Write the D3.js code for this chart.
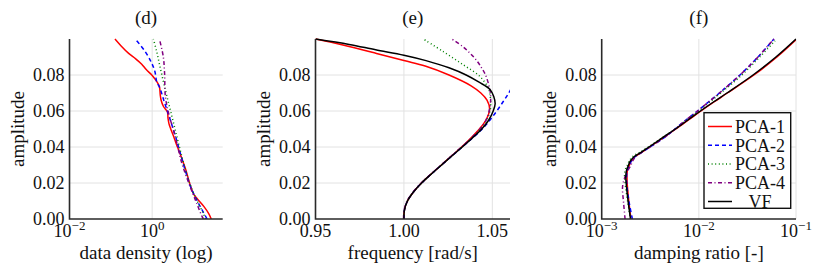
<!DOCTYPE html>
<meta charset="utf-8">
<title>Backbone curves (d)-(f)</title>
<style>
body { margin: 0; background: #fff; }
svg { display: block; font-family: "Liberation Serif", "DejaVu Serif", serif; }
.grid { stroke: #e2e2e2; stroke-width: 1; }
.spine { stroke: #2a2a2a; stroke-width: 1.6; fill: none; }
.ticklbl { font-size: 18px; fill: #111; }
.lbl { font-size: 19px; fill: #111; }
.legend text { font-size: 18px; fill: #111; }
</style>
<body>
<script src="https://cdnjs.cloudflare.com/ajax/libs/d3/7.8.5/d3.min.js"></script>
<script>

var width = 823, height = 275;

// ---- data ----
var seriesNames = ["PCA-1", "PCA-2", "PCA-3", "PCA-4", "VF"];
var ampTicks = [0, 0.02, 0.04, 0.06, 0.08];
var densityTicks = [0.01, 1];
var freqTicks = [0.95, 1.00, 1.05];
var dampTicks = [0.001, 0.01, 0.1];

// (d) data density vs amplitude (no VF curve)
var densAmp1 = [0, 0.003, 0.007, 0.011, 0.014, 0.019, 0.023, 0.027, 0.031, 0.0365, 0.042, 0.046, 0.05, 0.053, 0.056, 0.0595, 0.0625, 0.066, 0.069, 0.0735, 0.076, 0.078, 0.08, 0.083, 0.086, 0.089, 0.092, 0.096, 0.1];
var density1 = [26.9, 23.4, 17.8, 12.6, 10.0, 8.3, 7.4, 6.6, 5.75, 4.7, 3.8, 3.3, 2.82, 2.55, 2.42, 2.34, 1.88, 1.65, 1.57, 1.50, 1.32, 1.15, 0.98, 0.72, 0.56, 0.40, 0.27, 0.18, 0.126];
var densAmp2 = [0, 0.005, 0.0106, 0.018, 0.0272, 0.0365, 0.0457, 0.055, 0.0606, 0.066, 0.0726, 0.0763, 0.0818, 0.0865, 0.093, 0.1];
var density2 = [21.4, 16.2, 12.0, 8.5, 6.3, 4.8, 3.7, 2.75, 2.29, 1.91, 1.55, 1.29, 1.17, 0.98, 0.68, 0.39];
var densAmp3 = [0, 0.003, 0.0124, 0.0217, 0.0346, 0.0494, 0.0606, 0.0717, 0.0846, 0.093, 0.1];
var density3 = [19.5, 17.4, 11.0, 7.6, 5.25, 3.63, 2.75, 2.09, 1.55, 1.29, 1.07];
var densAmp4 = [0, 0.0013, 0.0087, 0.018, 0.0309, 0.0457, 0.0587, 0.068, 0.081, 0.0902, 0.1];
var density4 = [17.4, 16.2, 12.0, 8.3, 5.25, 3.63, 2.51, 2.09, 2.0, 1.86, 1.5];

// (e) backbone: frequency vs amplitude
var freqAmpVF = [0, 0.005, 0.01, 0.015, 0.02, 0.025, 0.03, 0.035, 0.04, 0.045, 0.05, 0.055, 0.06, 0.064, 0.068, 0.072, 0.076, 0.08, 0.084, 0.088, 0.091, 0.094, 0.097, 0.1];
var freqVF = [1.0, 1.0003, 1.0020, 1.0054, 1.0100, 1.0155, 1.0213, 1.0271, 1.0330, 1.0387, 1.0440, 1.0480, 1.0505, 1.0516, 1.0508, 1.0487, 1.0425, 1.0352, 1.0255, 1.0125, 1.0000, 0.9840, 0.9690, 0.9500];
var freqAmp1 = [0, 0.005, 0.01, 0.015, 0.02, 0.025, 0.03, 0.035, 0.04, 0.045, 0.05, 0.055, 0.061, 0.066, 0.07, 0.074, 0.08, 0.085, 0.088, 0.092, 0.0967, 0.1];
var freq1 = [1.0, 1.0003, 1.0020, 1.0054, 1.0099, 1.0154, 1.0212, 1.0269, 1.0326, 1.0379, 1.0427, 1.0464, 1.0485, 1.0470, 1.0435, 1.0380, 1.0255, 1.0120, 1.0000, 0.9845, 0.9655, 0.9500];
var freqAmp2 = [0, 0.005, 0.01, 0.015, 0.02, 0.025, 0.03, 0.035, 0.04, 0.045, 0.05, 0.055, 0.06, 0.065, 0.07, 0.075];
var freq2 = [1.0, 1.0003, 1.0020, 1.0054, 1.0100, 1.0155, 1.0213, 1.0271, 1.0330, 1.0388, 1.0443, 1.0487, 1.0525, 1.0560, 1.0593, 1.0620];
var freqAmp3 = [0, 0.005, 0.01, 0.015, 0.02, 0.025, 0.03, 0.035, 0.04, 0.045, 0.05, 0.055, 0.06, 0.065, 0.07, 0.0726, 0.079, 0.0856, 0.093, 0.1];
var freq3 = [1.0, 1.0003, 1.0020, 1.0054, 1.0100, 1.0155, 1.0213, 1.0270, 1.0328, 1.0384, 1.0432, 1.0468, 1.0487, 1.0491, 1.0485, 1.0478, 1.0432, 1.0337, 1.0223, 1.0110];
var freqAmp4 = [0, 0.005, 0.01, 0.015, 0.02, 0.025, 0.03, 0.035, 0.04, 0.045, 0.05, 0.055, 0.06, 0.065, 0.07, 0.0744, 0.08, 0.0837, 0.088, 0.092, 0.096, 0.1];
var freq4 = [0.9998, 1.0001, 1.0018, 1.0052, 1.0098, 1.0153, 1.0211, 1.0268, 1.0326, 1.0382, 1.0430, 1.0465, 1.0482, 1.0490, 1.0489, 1.0480, 1.0462, 1.0441, 1.0412, 1.0375, 1.0330, 1.0271];

// (f) damping ratio vs amplitude
var dampAmp = [0, 0.009, 0.018, 0.0235, 0.027, 0.03, 0.032, 0.0346, 0.037, 0.04, 0.0457, 0.05, 0.055, 0.06, 0.065, 0.07, 0.08, 0.09, 0.1];
var dampAmp3 = [0, 0.009, 0.018, 0.0235, 0.027, 0.03, 0.032, 0.0346, 0.037, 0.04, 0.0457, 0.05, 0.055, 0.06, 0.065, 0.07, 0.08, 0.09, 0.099];
var damp1 = [0.00200, 0.00191, 0.00184, 0.00182, 0.00184, 0.00193, 0.00200, 0.00219, 0.00257, 0.00310, 0.00443, 0.00581, 0.00782, 0.01052, 0.01430, 0.01968, 0.0369, 0.0637, 0.102];
var damp2 = [0.00207, 0.00192, 0.00182, 0.00180, 0.00184, 0.00193, 0.00201, 0.00220, 0.00258, 0.00315, 0.00453, 0.00568, 0.00736, 0.00968, 0.01256, 0.01629, 0.0265, 0.0406, 0.0593];
var damp3 = [0.00198, 0.00186, 0.00176, 0.00172, 0.00174, 0.00184, 0.00191, 0.00208, 0.00245, 0.00302, 0.00432, 0.00568, 0.00754, 0.0100, 0.0130, 0.0168, 0.0277, 0.0423, 0.0608];
var damp4 = [0.00174, 0.00168, 0.00164, 0.00174, 0.00186, 0.00200, 0.00207, 0.00223, 0.00258, 0.00315, 0.00453, 0.00568, 0.00736, 0.00968, 0.01256, 0.01629, 0.0265, 0.0406, 0.0593];
var dampVF = [0.00198, 0.00188, 0.00180, 0.00177, 0.00180, 0.00189, 0.00196, 0.00215, 0.00254, 0.00307, 0.00438, 0.00574, 0.00772, 0.01038, 0.01412, 0.01945, 0.0361, 0.0621, 0.100];

// ---- styles ----
var colors = ["#ff0000", "#0000ff", "#008000", "#800080", "#000000"];
var dashes = [null, "4,3", "1,2.6", "4,2.5,1,2.5", null];

var svg = d3.select("body").append("svg")
    .attr("width", width)
    .attr("height", height);

var plotTop = 39, plotBottom = 219;
var y = d3.scaleLinear().domain([0, 0.1]).range([plotBottom, plotTop]);

var panels = [
  { key: "d", title: "(d)", xlabel: "data density (log)",
    x: d3.scaleLog().domain([0.01, 51]).range([69.5, 222.7]), ticks: densityTicks, log: true,
    series: [[densAmp1, density1], [densAmp2, density2], [densAmp3, density3], [densAmp4, density4]] },
  { key: "e", title: "(e)", xlabel: "frequency [rad/s]",
    x: d3.scaleLinear().domain([0.95, 1.06]).range([315.5, 510]), ticks: freqTicks, log: false,
    series: [[freqAmp1, freq1], [freqAmp2, freq2], [freqAmp3, freq3], [freqAmp4, freq4], [freqAmpVF, freqVF]] },
  { key: "f", title: "(f)", xlabel: "damping ratio [-]",
    x: d3.scaleLog().domain([0.001, 0.1]).range([601.7, 796]), ticks: dampTicks, log: true,
    series: [[dampAmp, damp1], [dampAmp, damp2], [dampAmp3, damp3], [dampAmp, damp4], [dampAmp, dampVF]] }
];

panels.forEach(function(p) {
  var x = p.x,
      x0 = x.range()[0], x1 = x.range()[1],
      g = svg.append("g");

  // grid
  g.selectAll(".hgrid").data(ampTicks.filter(function(t) { return t > 0; }))
    .enter().append("line").attr("class", "grid")
      .attr("x1", x0).attr("x2", x1)
      .attr("y1", function(d) { return y(d); }).attr("y2", function(d) { return y(d); });
  g.selectAll(".vgrid").data(p.ticks.filter(function(t) { return x(t) > x0 + 1; }))
    .enter().append("line").attr("class", "grid")
      .attr("x1", function(d) { return x(d); }).attr("x2", function(d) { return x(d); })
      .attr("y1", plotTop).attr("y2", plotBottom);

  // curves
  g.append("clipPath").attr("id", "clip-" + p.key)
    .append("rect").attr("x", x0).attr("y", plotTop - 1).attr("width", x1 - x0).attr("height", plotBottom - plotTop + 1);

  var line = d3.line()
      .x(function(d) { return x(d[1]); })
      .y(function(d) { return y(d[0]); })
      .curve(d3.curveCatmullRom.alpha(0.5));

  var cg = g.append("g").attr("clip-path", "url(#clip-" + p.key + ")");
  p.series.forEach(function(s, i) {
    cg.append("path")
      .attr("d", line(d3.zip(s[0], s[1])))
      .attr("fill", "none")
      .attr("stroke", colors[i])
      .attr("stroke-width", 1.5)
      .attr("stroke-dasharray", dashes[i]);
  });

  // spines
  g.append("path").attr("class", "spine")
    .attr("d", "M" + x0 + "," + plotTop + "V" + plotBottom + "H" + x1);

  // y tick labels
  g.selectAll(".ylab").data(ampTicks).enter().append("text")
    .attr("class", "ticklbl")
    .attr("x", x0 - 5)
    .attr("y", function(d) { return y(d); })
    .attr("dy", "0.35em")
    .attr("text-anchor", "end")
    .text(d3.format(".2f"));

  // x tick labels
  var xl = g.selectAll(".xlab").data(p.ticks).enter().append("text")
    .attr("class", "ticklbl")
    .attr("x", function(d) { return x(d); })
    .attr("y", plotBottom + 18)
    .attr("text-anchor", "middle");
  if (p.log) {
    xl.append("tspan").text("10");
    xl.append("tspan").attr("dy", -7).style("font-size", "13px")
      .text(function(d) { var e = Math.round(Math.log10(d)); return e < 0 ? "\u2212" + (-e) : e; });
  } else {
    xl.text(d3.format(".2f"));
  }

  var cx = (x0 + x1) / 2;
  g.append("text").attr("class", "lbl").attr("x", cx).attr("y", 24)
    .attr("text-anchor", "middle").text(p.title);
  g.append("text").attr("class", "lbl").attr("x", cx).attr("y", 259)
    .attr("text-anchor", "middle").text(p.xlabel);
  g.append("text").attr("class", "lbl")
    .attr("transform", "translate(" + (x0 - 46) + "," + ((plotTop + plotBottom) / 2) + ") rotate(-90)")
    .attr("text-anchor", "middle").text("amplitude");
});

// legend in panel (f)
var leg = svg.append("g").attr("class", "legend").attr("transform", "translate(704,112.7)");
leg.append("rect").attr("width", 86.7).attr("height", 95.6)
  .attr("fill", "#fff").attr("stroke", "#111").attr("stroke-width", 1.4);
seriesNames.forEach(function(name, i) {
  var yy = 13.8 + i * 18.75;
  leg.append("line").attr("x1", 4).attr("x2", 28).attr("y1", yy).attr("y2", yy)
    .attr("stroke", colors[i]).attr("stroke-width", 1.5).attr("stroke-dasharray", dashes[i]);
  leg.append("text").attr("x", 56).attr("y", yy).attr("dy", "0.35em")
    .attr("text-anchor", "middle").text(name);
});

</script>
